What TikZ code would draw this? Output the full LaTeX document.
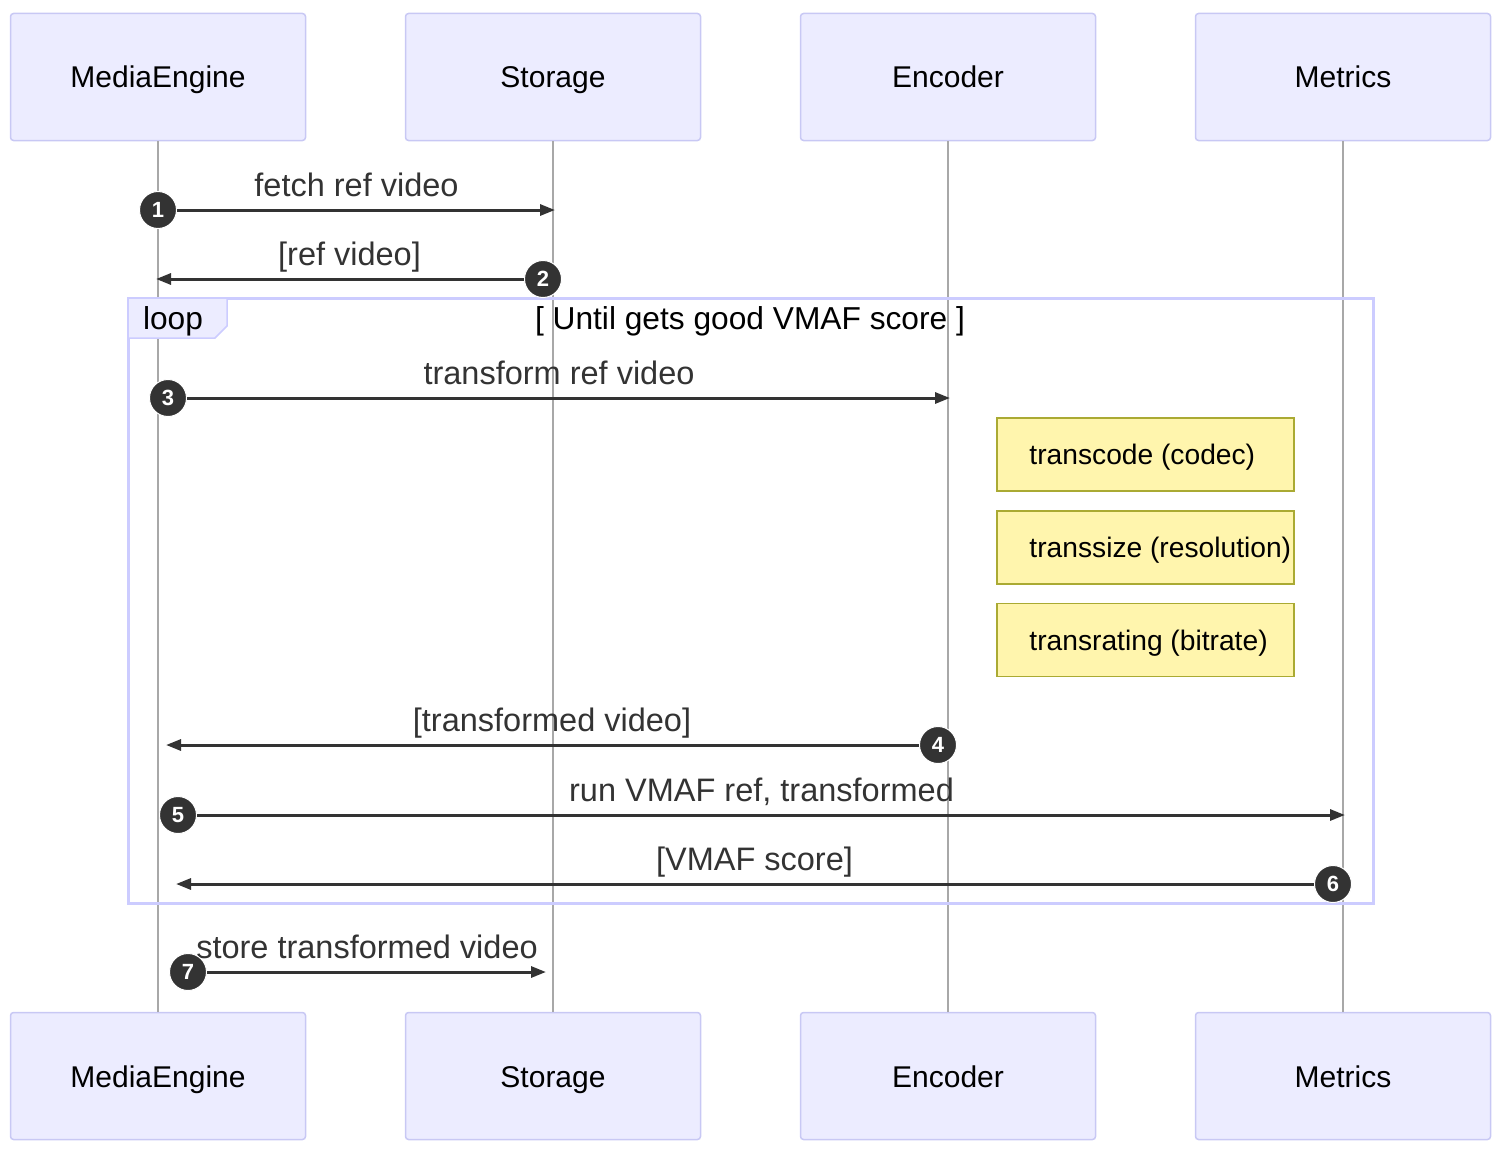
\documentclass[tikz,border=0pt]{standalone}
\usepackage{fontspec}
\setmainfont{Liberation Sans}
\usetikzlibrary{arrows.meta,calc}
\definecolor{actfill}{HTML}{ECECFF}
\definecolor{actline}{HTML}{C8C8F4}
\definecolor{loopline}{HTML}{CCCCFF}
\definecolor{msgcol}{HTML}{333333}
\definecolor{lifecol}{HTML}{A8A8A8}
\definecolor{notefill}{HTML}{FFF5AD}
\definecolor{noteline}{HTML}{AAAA33}
\tikzset{
  actbox/.style={draw=actline, fill=actfill, line width=1.5pt, rounded corners=3pt,
    minimum width=295pt, minimum height=127pt, inner sep=0pt,
    font=\fontsize{30}{36}\selectfont, text=black, text height=22pt, text depth=0pt},
  lifeline/.style={draw=lifecol, line width=1.5pt},
  msgline/.style={draw=msgcol, line width=3pt, -{Triangle[length=15pt,width=11pt]}},
  msglabel/.style={font=\fontsize{32.5}{39}\selectfont, text=msgcol, inner sep=0pt,
    anchor=base, yshift=14pt},
  numc/.style={circle, fill=msgcol, draw=white, line width=1pt, minimum size=37pt, inner sep=0pt,
    text=white, font=\fontsize{22}{22}\selectfont\bfseries},
  notebox/.style={draw=noteline, fill=notefill, line width=1.5pt, minimum width=297pt,
    minimum height=73pt, inner sep=0pt},
  notetext/.style={font=\fontsize{28.2}{34}\selectfont, text=black, inner sep=0pt, anchor=west,
    text height=20pt, text depth=0pt},
  looptext/.style={font=\fontsize{31.7}{38}\selectfont, text=black, inner sep=0pt,
    text height=23pt, text depth=0pt},
  loopframe/.style={draw=loopline, line width=3pt},
}
\begin{document}
\begin{tikzpicture}[x=1pt,y=-1pt]
\useasboundingbox (0,0) rectangle (1504,1156);
% actors
\node[actbox] (meT) at (158,77) {MediaEngine};
\node[actbox] (stT) at (553,77) {Storage};
\node[actbox] (enT) at (948,77) {Encoder};
\node[actbox] (mtT) at (1343,77) {Metrics};
\node[actbox] (meB) at (158,1076) {MediaEngine};
\node[actbox] (stB) at (553,1076) {Storage};
\node[actbox] (enB) at (948,1076) {Encoder};
\node[actbox] (mtB) at (1343,1076) {Metrics};
% lifelines
\draw[lifeline] (meT.south) -- (meB.north);
\draw[lifeline] (stT.south) -- (stB.north);
\draw[lifeline] (enT.south) -- (enB.north);
\draw[lifeline] (mtT.south) -- (mtB.north);
% loop frame
\coordinate (lpA) at (128,298);
\coordinate (lpB) at (1373,903);
\draw[loopframe] (lpA) rectangle (lpB);
\draw[draw=loopline, fill=actfill, line width=1.5pt] (lpA) -- ++(99,0) -- ++(0,28) -- ++(-12,12) -- ++(-87,0) -- cycle;
\node[looptext] (looplbl) at (173,318) {loop};
\node[looptext] (loopcond) at (750,318) {[ Until gets good VMAF score ]};
% messages
\coordinate (m1s) at (158,210); \coordinate (m1e) at (555,210);
\coordinate (m2s) at (543,279); \coordinate (m2e) at (156,279);
\coordinate (m3s) at (168,398); \coordinate (m3e) at (950,398);
\coordinate (m4s) at (938,745); \coordinate (m4e) at (166,745);
\coordinate (m5s) at (178,815); \coordinate (m5e) at (1345,815);
\coordinate (m6s) at (1333,884); \coordinate (m6e) at (176,884);
\coordinate (m7s) at (188,972); \coordinate (m7e) at (546,972);
\draw[msgline] (m1s) -- node[msglabel] {fetch ref video} (m1e);
\draw[msgline] (m2s) -- node[msglabel] {[ref video]} (m2e);
\draw[msgline] (m3s) -- node[msglabel] {transform ref video} (m3e);
\draw[msgline] (m4s) -- node[msglabel] {[transformed video]} (m4e);
\draw[msgline] (m5s) -- node[msglabel] {run VMAF ref, transformed} (m5e);
\draw[msgline] (m6s) -- node[msglabel] {[VMAF score]} (m6e);
\draw[msgline] (m7s) -- node[msglabel] {store transformed video} (m7e);
\node[numc] (c1) at (m1s) {1};
\node[numc] (c2) at (m2s) {2};
\node[numc] (c3) at (m3s) {3};
\node[numc] (c4) at (m4s) {4};
\node[numc] (c5) at (m5s) {5};
\node[numc] (c6) at (m6s) {6};
\node[numc] (c7) at (m7s) {7};
% notes
\node[notebox] (n1) at (1145.5,454.5) {};
\node[notebox] (n2) at (1145.5,547.5) {};
\node[notebox] (n3) at (1145.5,640) {};
\node[notetext] (t1) at ($(n1.west)+(33,0)$) {transcode (codec)};
\node[notetext] (t2) at ($(n2.west)+(33,0)$) {transsize (resolution)};
\node[notetext] (t3) at ($(n3.west)+(33,0)$) {transrating (bitrate)};
\end{tikzpicture}
\end{document}
